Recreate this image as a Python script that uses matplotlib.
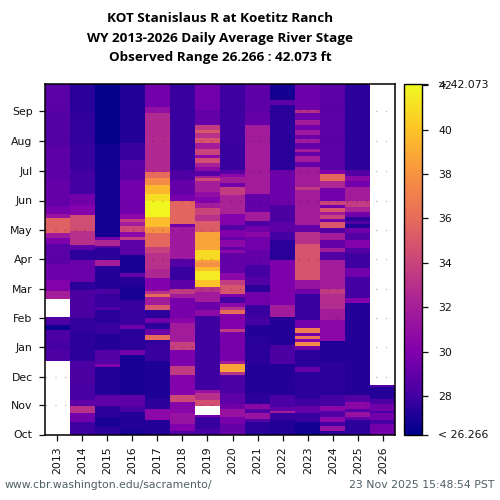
import numpy as np
import matplotlib
matplotlib.use("Agg")
import matplotlib.pyplot as plt
from matplotlib.colors import LinearSegmentedColormap

nan = float("nan")

# ---------- DATA ----------
# each year: water-year day where a run of stage values starts, and the stage (ft)
years = [2013, 2014, 2015, 2016, 2017, 2018, 2019, 2020, 2021, 2022, 2023, 2024, 2025, 2026]
month_labels = ["Oct", "Nov", "Dec", "Jan", "Feb", "Mar", "Apr", "May", "Jun", "Jul", "Aug", "Sep"]
month_days = [0, 31, 60, 91, 121, 152, 183, 213, 244, 275, 306, 337]
cbar_ticks = [28, 30, 32, 34, 36, 38, 40, 42]
stage_min = 26.266
stage_max = 42.073

days_2013 = [0, 77, 88, 98, 109, 114, 119, 123, 141, 150, 161, 178, 199, 205, 210, 226, 230, 237, 265, 300, 335]
stage_2013 = [nan, 28.4, 28.1, 28.3, 26.7, 28.2, 28.6, nan, 32.0, 30.1, 29.4, 28.7, 29.9, 31.6, 35.5, 31.2, 29.7, 29.1, 28.8, 28.5, 28.7]

days_2014 = [0, 13, 22, 30, 36, 53, 77, 107, 121, 151, 159, 182, 192, 198, 212, 229, 239, 251, 276, 304, 335]
stage_2014 = [27.9, 29.5, 33.0, 28.8, 28.1, 28.3, 27.5, 27.6, 28.3, 27.5, 29.2, 27.5, 28.8, 33.0, 34.5, 30.1, 29.5, 28.0, 27.7, 27.6, 27.4]

days_2015 = [0, 8, 18, 30, 41, 70, 74, 88, 105, 116, 130, 133, 147, 152, 176, 182, 194, 197, 203, 206, 244, 276, 303]
stage_2015 = [27.5, 27.0, 27.5, 28.9, 27.2, 30.2, 28.5, 27.3, 27.7, 27.4, 28.5, 27.8, 28.3, 27.3, 32.0, 27.5, 28.5, 32.5, 29.5, 26.9, 26.9, 26.8, 26.4]

days_2016 = [0, 6, 23, 29, 41, 83, 88, 110, 114, 140, 154, 164, 168, 187, 203, 206, 211, 217, 222, 225, 230, 265, 286, 304, 335]
stage_2016 = [27.0, 27.3, 28.1, 28.8, 27.0, 29.5, 27.4, 29.5, 27.7, 27.0, 27.3, 29.0, 27.0, 28.7, 33.5, 30.5, 34.2, 31.8, 33.5, 30.5, 29.5, 28.7, 27.8, 27.3, 27.2]

days_2017 = [0, 15, 27, 37, 77, 95, 99, 104, 110, 116, 121, 130, 135, 143, 147, 150, 152, 163, 173, 189, 196, 210, 216, 227, 244, 251, 260, 267, 274, 335, 342]
stage_2017 = [27.2, 30.5, 27.5, 27.1, 27.7, 27.5, 36.0, 29.3, 27.5, 29.5, 27.5, 35.0, 31.8, 36.0, 33.0, 30.5, 30.0, 32.5, 33.0, 33.8, 35.8, 37.8, 39.7, 41.9, 41.0, 39.5, 37.6, 36.0, 32.6, 31.0, 29.5]

days_2018 = [0, 4, 11, 22, 34, 41, 62, 71, 88, 96, 116, 121, 142, 147, 152, 161, 175, 183, 216, 220, 243, 250, 265, 276]
stage_2018 = [28.5, 30.0, 31.2, 30.3, 34.3, 30.1, 33.5, 29.8, 33.8, 31.8, 30.3, 29.7, 31.8, 33.5, 28.8, 27.8, 28.5, 31.6, 29.5, 35.7, 29.7, 29.1, 28.4, 27.8]

days_2019 = [0, 6, 18, 20, 30, 36, 43, 46, 109, 124, 130, 138, 149, 154, 161, 171, 175, 180, 182, 192, 211, 223, 229, 236, 241, 248, 253, 264, 267, 270, 275, 279, 283, 288, 291, 298, 304, 309, 314, 318, 323, 338]
stage_2019 = [28.1, 27.7, 29.5, nan, 34.6, 33.0, 31.2, 27.9, 27.9, 30.6, 29.2, 31.8, 33.0, 40.0, 41.5, 39.7, 37.8, 38.5, 40.8, 38.7, 35.2, 33.0, 34.0, 31.8, 30.1, 30.8, 32.0, 34.3, 31.8, 28.7, 30.6, 32.1, 34.5, 30.6, 34.0, 31.8, 34.8, 33.0, 35.0, 33.5, 29.0, 29.5]

days_2020 = [0, 11, 18, 27, 32, 43, 62, 65, 74, 77, 107, 110, 126, 130, 133, 137, 143, 147, 156, 161, 168, 189, 192, 196, 203, 206, 213, 218, 230, 250, 258, 262, 269, 272, 276, 304]
stage_2020 = [29.0, 29.7, 31.2, 29.5, 28.8, 28.2, 33.0, 38.7, 31.8, 29.7, 33.5, 30.0, 36.0, 33.0, 30.5, 28.0, 30.0, 34.8, 33.6, 30.5, 29.0, 30.5, 29.0, 30.5, 29.0, 30.0, 28.5, 30.1, 32.3, 33.6, 29.5, 31.8, 30.5, 28.7, 27.7, 27.9]

days_2021 = [0, 13, 16, 22, 27, 32, 43, 72, 102, 114, 123, 135, 149, 156, 164, 177, 192, 206, 211, 217, 223, 232, 251, 323, 335]
stage_2021 = [27.4, 28.5, 31.2, 28.5, 30.5, 27.5, 27.2, 27.4, 27.3, 28.0, 27.8, 29.5, 27.5, 28.5, 28.0, 29.0, 29.5, 30.5, 29.5, 28.3, 31.8, 29.0, 31.8, 29.1, 28.8]

days_2022 = [0, 15, 22, 25, 29, 41, 74, 93, 123, 135, 182, 203, 211, 222, 239, 276, 344, 349]
stage_2022 = [27.2, 27.8, 31.8, 29.0, 28.2, 27.3, 28.3, 27.3, 31.8, 29.9, 27.4, 28.0, 28.8, 28.3, 29.3, 27.4, 28.8, 26.9]

days_2023 = [0, 13, 22, 30, 37, 65, 70, 88, 92, 96, 100, 103, 106, 111, 119, 147, 152, 161, 199, 211, 218, 255, 258, 279, 284, 290, 295, 298, 304, 308, 312, 317, 323, 328, 335, 338]
stage_2023 = [26.8, 27.7, 29.0, 27.9, 27.5, 29.0, 27.4, 29.5, 37.5, 30.0, 36.5, 29.5, 37.0, 29.5, 27.8, 29.5, 31.2, 34.8, 33.0, 29.0, 31.8, 33.5, 31.8, 29.0, 31.8, 29.0, 31.8, 29.0, 31.8, 29.3, 31.6, 29.5, 31.8, 29.3, 33.0, 29.3]

days_2024 = [0, 4, 9, 13, 18, 25, 30, 41, 76, 98, 119, 131, 147, 152, 182, 190, 194, 203, 210, 215, 222, 225, 229, 232, 236, 239, 243, 257, 264, 272, 276]
stage_2024 = [27.5, 31.2, 28.0, 30.5, 28.5, 30.5, 28.0, 27.5, 27.2, 30.5, 31.8, 32.7, 33.5, 31.8, 28.5, 31.8, 29.0, 31.8, 28.5, 35.0, 29.5, 34.0, 31.8, 35.0, 29.5, 34.0, 29.5, 32.5, 35.8, 30.0, 28.7]

days_2025 = [0, 15, 18, 23, 27, 34, 41, 137, 142, 164, 174, 189, 194, 203, 210, 215, 220, 223, 227, 232, 237, 244, 258, 264, 270, 276]
stage_2025 = [27.5, 29.0, 31.2, 28.5, 30.5, 28.5, 27.3, 30.0, 28.0, 29.5, 27.9, 28.5, 30.1, 28.5, 29.5, 27.3, 28.5, 27.5, 29.5, 32.3, 33.6, 31.8, 29.5, 30.5, 28.5, 27.5]

days_2026 = [0, 11, 15, 22, 25, 32, 37, 50, 52]
stage_2026 = [29.5, 28.1, 29.5, 28.1, 29.5, 28.3, 27.3, 28.5, nan]

all_days = [days_2013, days_2014, days_2015, days_2016, days_2017, days_2018, days_2019,
            days_2020, days_2021, days_2022, days_2023, days_2024, days_2025, days_2026]
all_stage = [stage_2013, stage_2014, stage_2015, stage_2016, stage_2017, stage_2018, stage_2019,
             stage_2020, stage_2021, stage_2022, stage_2023, stage_2024, stage_2025, stage_2026]

# expand the runs to a daily grid
n_days = 366
grid = np.full((n_days, len(years)), np.nan)
for col, (d, s) in enumerate(zip(all_days, all_stage)):
    ends = d[1:] + [n_days]
    for start, end, val in zip(d, ends, s):
        grid[start:end, col] = val

# plasma, but the low end runs down to a purer navy
cmap = LinearSegmentedColormap.from_list("stage", [
    (0.00, "#00008a"), (0.05, "#1c0096"), (0.11, "#4400a3"), (0.236, "#8200ac"),
    (0.38, "#aa2396"), (0.50, "#cc4778"), (0.62, "#e86c5a"), (0.75, "#f89540"),
    (0.88, "#fdc826"), (1.00, "#f0f921")])

# ---------- PLOT ----------
fig = plt.figure(figsize=(5, 5), dpi=100)
ax = fig.add_axes([44.5 / 500, 65.5 / 500, 351 / 500, 351 / 500])
cax = fig.add_axes([403.5 / 500, 65.5 / 500, 18 / 500, 351 / 500])

x_edges = np.arange(len(years) + 1) - 0.5
y_edges = np.arange(n_days + 1)
mesh = ax.pcolormesh(x_edges, y_edges, np.ma.masked_invalid(grid), cmap=cmap,
                     vmin=stage_min, vmax=stage_max, rasterized=True)

ax.set_xlim(x_edges[0], x_edges[-1])
ax.set_ylim(0, n_days)
ax.set_xticks(np.arange(len(years)))
ax.set_xticklabels(years, rotation=90, fontsize=7.8)
ax.set_yticks(month_days)
ax.set_yticklabels(month_labels, fontsize=7.8)
ax.tick_params(axis="both", length=4.5, width=0.9, pad=4, colors="#111111")
ax.grid(axis="y", color="black", alpha=0.22, linewidth=1, linestyle=(0, (1, 6)))
ax.set_axisbelow(False)
for sp in ax.spines.values():
    sp.set_linewidth(1.1)

cb = fig.colorbar(mesh, cax=cax)
ticks = [stage_min] + cbar_ticks + [stage_max]
labels = ["< %.3f" % stage_min] + [str(t) for t in cbar_ticks] + ["> %.3f" % stage_max]
cb.set_ticks(ticks)
cb.set_ticklabels(labels, fontsize=7.8)
cax.tick_params(length=4, width=0.9, pad=8, colors="#111111")
cb.outline.set_linewidth(1)

fig.text(0.44, 0.9625, "KOT Stanislaus R at Koetitz Ranch", family="Open Sans", weight="bold",
         fontsize=9.7, ha="center", va="center", color="black")
fig.text(0.44, 0.9235, "WY 2013-2026 Daily Average River Stage", family="Open Sans", weight="bold",
         fontsize=9.7, ha="center", va="center", color="black")
fig.text(0.44, 0.8845, "Observed Range 26.266 : 42.073 ft", family="Open Sans", weight="bold",
         fontsize=9.7, ha="center", va="center", color="black")

fig.text(0.010, 0.030, "www.cbr.washington.edu/sacramento/", fontsize=7.8, color="#4f5f66",
         ha="left", va="center")
fig.text(0.988, 0.030, "23 Nov 2025 15:48:54 PST", fontsize=7.8, color="#4f5f66",
         ha="right", va="center")

fig.savefig("out.png", dpi=100)
